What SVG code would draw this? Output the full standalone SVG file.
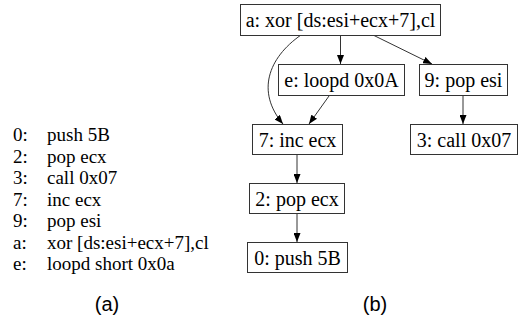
<svg xmlns="http://www.w3.org/2000/svg" width="532" height="322" viewBox="0 0 532 322">
<style>
.bg{fill:#fff}
.box{fill:#fff;stroke:#333;stroke-width:1}
.nt{font-family:"Liberation Serif","Times New Roman",serif;font-size:20px;fill:#000;text-anchor:middle}
.lt{font-family:"Liberation Serif","Times New Roman",serif;font-size:19px;fill:#000}
.cap{font-family:"Liberation Sans",Arial,sans-serif;font-size:20px;fill:#000;text-anchor:middle}
.e{fill:none;stroke:#333;stroke-width:1;marker-end:url(#ah)}
</style>
<defs>
<marker id="ah" markerUnits="userSpaceOnUse" markerWidth="9" markerHeight="7" refX="9" refY="3.5" orient="auto">
<path d="M0,0 L9,3.5 L0,7 z" fill="#000"/>
</marker>
</defs>
<rect class="bg" x="0" y="0" width="532" height="322"/>
<g id="listing">
<text class="lt" x="13" y="141">0:</text><text class="lt" x="47" y="141">push 5B</text>
<text class="lt" x="13" y="162.5">2:</text><text class="lt" x="47" y="162.5">pop ecx</text>
<text class="lt" x="13" y="184">3:</text><text class="lt" x="47" y="184">call 0x07</text>
<text class="lt" x="13" y="205.5">7:</text><text class="lt" x="47" y="205.5">inc ecx</text>
<text class="lt" x="13" y="227">9:</text><text class="lt" x="47" y="227">pop esi</text>
<text class="lt" x="13" y="248.5">a:</text><text class="lt" x="47" y="248.5">xor [ds:esi+ecx+7],cl</text>
<text class="lt" x="13" y="270">e:</text><text class="lt" x="47" y="270">loopd short 0x0a</text>
</g>
<g id="connectors">
<path class="e" d="M301,35 C268,58 256,92 283,124"/>
<path class="e" d="M340.5,35 L340.5,64"/>
<path class="e" d="M373,35 L432,64"/>
<path class="e" d="M329,96 L309,124"/>
<path class="e" d="M463,96 L463,124"/>
<path class="e" d="M297,154 L297,183"/>
<path class="e" d="M297,213 L297,242"/>
</g>
<g id="node-a"><rect class="box" x="240.5" y="4.5" width="200" height="31"/><text class="nt" x="340.5" y="27">a: xor [ds:esi+ecx+7],cl</text></g>
<g id="node-e"><rect class="box" x="278.5" y="64.5" width="126" height="31"/><text class="nt" x="341.5" y="87">e: loopd 0x0A</text></g>
<g id="node-9"><rect class="box" x="419.5" y="64.5" width="88" height="31"/><text class="nt" x="463.5" y="87">9: pop esi</text></g>
<g id="node-7"><rect class="box" x="252.5" y="124.5" width="90" height="30"/><text class="nt" x="297.5" y="146.5">7: inc ecx</text></g>
<g id="node-3"><rect class="box" x="410.5" y="124.5" width="107" height="30"/><text class="nt" x="464" y="146.5">3: call 0x07</text></g>
<g id="node-2"><rect class="box" x="249.5" y="183.5" width="95" height="30"/><text class="nt" x="297" y="205.5">2: pop ecx</text></g>
<g id="node-0"><rect class="box" x="247.5" y="242.5" width="100" height="30"/><text class="nt" x="297.5" y="264.5">0: push 5B</text></g>
<g id="captions">
<text class="cap" x="107" y="311">(a)</text>
<text class="cap" x="375" y="311">(b)</text>
</g>
</svg>
